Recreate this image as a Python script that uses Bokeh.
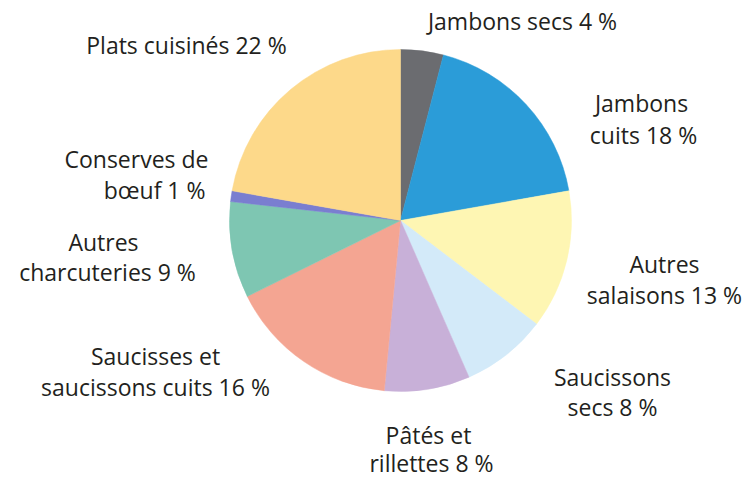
import numpy as np
from bokeh.plotting import figure
from bokeh.models import ColumnDataSource, Range1d
from bokeh.core.properties import value
from bokeh.embed import file_html
from bokeh.resources import INLINE

# Data (clockwise from 12 o'clock)
categories = ["Jambons secs", "Jambons cuits", "Autres salaisons", "Saucissons secs",
              "Pâtés et rillettes", "Saucisses et saucissons cuits", "Autres charcuteries",
              "Conserves de bœuf", "Plats cuisinés"]
shares = [4, 18, 13, 8, 8, 16, 9, 1, 22]
colors = ["#6b6c70", "#2b9cd8", "#fef6b3", "#d3eaf9", "#c8b0d8",
          "#f4a592", "#7ec6b2", "#7a7ed0", "#fdd98a"]

# Label lines (text, page x, page y, align)
label_text = ["Jambons secs 4 %",
              "Jambons", "cuits 18 %",
              "Autres", "salaisons 13 %",
              "Saucissons", "secs 8 %",
              "Pâtés et", "rillettes 8 %",
              "Saucisses et", "saucissons cuits 16 %",
              "Autres", "charcuteries 9 %",
              "Conserves de", "bœuf 1 %",
              "Plats cuisinés 22 %"]
label_px = [522, 641, 643, 664, 664, 612, 612, 428, 431, 155, 155, 103, 107, 208, 205, 186]
label_py = [20, 102, 134, 263, 294, 376, 406, 434, 462, 355, 386, 241, 271, 158, 189, 44]
label_align = ["center"] * 13 + ["right", "right", "center"]

W, H = 750, 479

fr = np.array(shares, dtype=float) / sum(shares)
cum = np.concatenate([[0.0], np.cumsum(fr)])
start = np.pi / 2 - cum[:-1] * 2 * np.pi
end = np.pi / 2 - cum[1:] * 2 * np.pi

cx, cy, r = 400, H - 220, 171

src = ColumnDataSource(dict(cat=categories, share=shares, color=colors,
                            start=start, end=end))

p = figure(width=W, height=H, output_backend="svg", toolbar_location=None,
           x_range=Range1d(0, W), y_range=Range1d(0, H), min_border=0)
p.axis.visible = False
p.grid.visible = False
p.outline_line_color = None
p.background_fill_color = "white"

p.wedge(x=cx, y=cy, radius=r, start_angle="start", end_angle="end",
        direction="clock", fill_color="color", line_color="color", line_width=0.5,
        source=src)

lsrc = ColumnDataSource(dict(
    text=label_text,
    x=label_px,
    y=[H - v for v in label_py],
    align=label_align))
p.text(x="x", y="y", text="text", text_align="align", text_baseline="middle",
       text_font=value("Open Sans"), text_font_size="23px", text_color="#231f20",
       source=lsrc)

open("out.html", "w").write(file_html(p, INLINE))
